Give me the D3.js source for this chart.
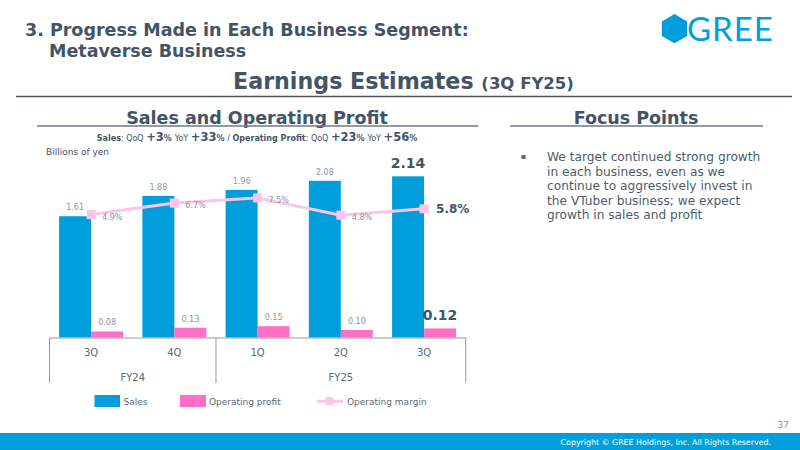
<!DOCTYPE html>
<html><head><meta charset="utf-8">
<script src="https://cdn.jsdelivr.net/npm/d3@7"></script>
<style>
html,body{margin:0;padding:0;background:#fff;}
svg{display:block;font-family:"DejaVu Sans",Verdana,sans-serif;}
</style></head>
<body>
<svg id="c" width="800" height="450"></svg>
<script>
const quarters = ["3Q", "4Q", "1Q", "2Q", "3Q"];
const fiscalYears = ["FY24", "FY25"];
const fiscalSpans = [2, 3];
const sales = [1.61, 1.88, 1.96, 2.08, 2.14];
const profit = [0.08, 0.13, 0.15, 0.10, 0.12];
const margin = [4.9, 6.7, 7.5, 4.8, 5.8];
const legendLabels = ["Sales", "Operating profit", "Operating margin"];
const focusLines = ["We target continued strong growth", "in each business, even as we",
  "continue to aggressively invest in", "the VTuber business; we expect", "growth in sales and profit"];

const C = {blue:"#009fdb", pink:"#ff6ec7", pale:"#ffc4ea", head:"#435466", gray:"#8a96a3", text:"#5a6878"};
const svg = d3.select("#c");

// Header
svg.append("text").attr("x",25).attr("y",36).attr("font-size",17.5).attr("font-weight","bold").attr("fill",C.head)
  .text("3. Progress Made in Each Business Segment:");
svg.append("text").attr("x",49).attr("y",57).attr("font-size",17.5).attr("font-weight","bold").attr("fill",C.head)
  .text("Metaverse Business");
const t2 = svg.append("text").attr("x",233).attr("y",89).attr("font-weight","bold").attr("fill",C.head);
t2.append("tspan").attr("font-size",22.2).text("Earnings Estimates ");
t2.append("tspan").attr("font-size",16.5).text("(3Q FY25)");
svg.append("line").attr("x1",16).attr("x2",792).attr("y1",96.5).attr("y2",96.5).attr("stroke","#4a5561").attr("stroke-width",1.5);

// Logo
const hx=674.5, hy=28.7, hr=14.6;
svg.append("polygon").attr("fill",C.blue)
  .attr("points", d3.range(6).map(i=>{const a=Math.PI/3*i - Math.PI/2; return [hx+hr*Math.cos(a), hy+hr*Math.sin(a)].join(",");}).join(" "));
svg.append("text").attr("x",687).attr("y",41).attr("font-family","Lato, sans-serif").attr("font-size",33).attr("fill",C.blue)
  .attr("letter-spacing",1).text("GREE");

// Section titles
svg.append("text").attr("x",257).attr("y",124).attr("text-anchor","middle").attr("font-size",17.5).attr("font-weight","bold").attr("fill",C.head).text("Sales and Operating Profit");
svg.append("line").attr("x1",37).attr("x2",478).attr("y1",126).attr("y2",126).attr("stroke","#6b7a88").attr("stroke-width",1.3);
svg.append("text").attr("x",636).attr("y",124).attr("text-anchor","middle").attr("font-size",17.5).attr("font-weight","bold").attr("fill",C.head).text("Focus Points");
svg.append("line").attr("x1",510).attr("x2",763).attr("y1",126).attr("y2",126).attr("stroke","#6b7a88").attr("stroke-width",1.3);

// Subtitle
const st = svg.append("text").attr("x",257).attr("y",141).attr("text-anchor","middle").attr("fill",C.head);
[["Sales",8,"bold"],[": QoQ ",8,"normal"],["+3",11.5,"bold"],["% ",8,"bold"],["YoY ",8,"normal"],["+33",11.5,"bold"],["% ",8,"bold"],
 ["/ ",8,"normal"],["Operating Profit",8,"bold"],[": QoQ ",8,"normal"],["+23",11.5,"bold"],["% ",8,"bold"],["YoY ",8,"normal"],["+56",11.5,"bold"],["%",8,"bold"]]
 .forEach(([s,f,w])=>st.append("tspan").attr("font-size",f).attr("font-weight",w).text(s));
svg.append("text").attr("x",46).attr("y",155).attr("font-size",9).attr("fill",C.head).text("Billions of yen");

// Chart
const x0=49.5, x1=465.7, base=337.5;
const x = d3.scaleBand().domain(d3.range(quarters.length)).range([x0,x1]).padding(0);
const bw = x.bandwidth();
const sub = d3.scaleBand().domain(["s","p"]).range([bw/2-32, bw/2+32]).padding(0);
const y = d3.scaleLinear().domain([0,2.2]).range([base, base-165.7]);
const yM = d3.scaleLinear().domain([-14.36,10]).range([base, base-155.5]);

const g = svg.append("g");
g.selectAll("rect.s").data(sales).join("rect").attr("class","s")
  .attr("x",(d,i)=>x(i)+sub("s")).attr("width",sub.bandwidth()).attr("y",d=>y(d)).attr("height",d=>base-y(d)).attr("fill",C.blue);
g.selectAll("rect.p").data(profit).join("rect").attr("class","p")
  .attr("x",(d,i)=>x(i)+sub("p")).attr("width",sub.bandwidth()).attr("y",d=>y(d)).attr("height",d=>base-y(d)).attr("fill",C.pink);

const last = sales.length-1;
g.selectAll("text.sl").data(sales).join("text").attr("class","sl")
  .attr("x",(d,i)=>x(i)+sub("s")+sub.bandwidth()/2).attr("y",(d,i)=>y(d)-(i===last?8:6))
  .attr("text-anchor","middle").attr("font-size",(d,i)=>i===last?14:8).attr("font-weight",(d,i)=>i===last?"bold":"normal")
  .attr("fill",(d,i)=>i===last?C.head:C.gray).text(d=>d.toFixed(2));
g.selectAll("text.pl").data(profit).join("text").attr("class","pl")
  .attr("x",(d,i)=>x(i)+sub("p")+sub.bandwidth()/2).attr("y",(d,i)=>y(d)-(i===last?8:6))
  .attr("text-anchor","middle").attr("font-size",(d,i)=>i===last?14:8).attr("font-weight",(d,i)=>i===last?"bold":"normal")
  .attr("fill",(d,i)=>i===last?C.head:C.gray).text(d=>d.toFixed(2));

const cx = i => x(i)+bw/2;
g.append("path").datum(margin).attr("fill","none").attr("stroke",C.pale).attr("stroke-width",3)
  .attr("d", d3.line().x((d,i)=>cx(i)).y(d=>yM(d)));
g.selectAll("rect.m").data(margin).join("rect").attr("class","m")
  .attr("x",(d,i)=>cx(i)-4.5).attr("y",d=>yM(d)-4.5).attr("width",9).attr("height",9).attr("fill",C.pale);
g.selectAll("text.ml").data(margin).join("text").attr("class","ml")
  .attr("x",(d,i)=>cx(i)+(i===last?12:11)).attr("y",(d,i)=>yM(d)+(i===last?4.5:5))
  .attr("font-size",(d,i)=>i===last?12:8).attr("font-weight",(d,i)=>i===last?"bold":"normal")
  .attr("fill",(d,i)=>i===last?C.head:C.gray).text(d=>d.toFixed(1)+"%");

// Category axis
const ax = svg.append("g").attr("transform",`translate(0,${base})`)
  .call(d3.axisBottom(x).tickSize(0).tickPadding(11).tickFormat(i=>quarters[i]));
ax.select(".domain").remove();
ax.selectAll("text").attr("font-size",10).attr("fill",C.text).attr("font-family","DejaVu Sans, Verdana, sans-serif");
svg.append("line").attr("x1",x0).attr("x2",x1).attr("y1",base+0.5).attr("y2",base+0.5).attr("stroke","#9a9a9a");
let cum=0;
const bounds=[0];
fiscalSpans.forEach(s=>{cum+=s;bounds.push(cum);});
bounds.forEach(b=>{
  const bx = b===quarters.length ? x1 : x(b);
  svg.append("line").attr("x1",bx).attr("x2",bx).attr("y1",base).attr("y2",383).attr("stroke","#9a9a9a");
});
fiscalYears.forEach((fy,k)=>{
  const a = x(bounds[k]), b = bounds[k+1]===quarters.length ? x1 : x(bounds[k+1]);
  svg.append("text").attr("x",(a+b)/2).attr("y",381).attr("text-anchor","middle").attr("font-size",10).attr("fill",C.text).text(fy);
});

// Legend
const lg = svg.append("g").attr("font-size",9).attr("fill",C.text);
lg.append("rect").attr("x",94.5).attr("y",395).attr("width",25.5).attr("height",12).attr("fill",C.blue);
lg.append("text").attr("x",123.5).attr("y",404.5).text(legendLabels[0]);
lg.append("rect").attr("x",180).attr("y",395).attr("width",26).attr("height",12).attr("fill",C.pink);
lg.append("text").attr("x",209).attr("y",404.5).text(legendLabels[1]);
lg.append("line").attr("x1",317).attr("x2",343).attr("y1",401.3).attr("y2",401.3).attr("stroke",C.pale).attr("stroke-width",3);
lg.append("rect").attr("x",325.5).attr("y",397).attr("width",8).attr("height",8).attr("fill",C.pale);
lg.append("text").attr("x",347).attr("y",404.5).text(legendLabels[2]);

// Focus points
svg.append("rect").attr("x",521.5).attr("y",155).attr("width",4).attr("height",4).attr("fill","#5a6878");
svg.append("g").selectAll("text").data(focusLines).join("text")
  .attr("x",547).attr("y",(d,i)=>161+i*14.6).attr("font-size",12.2).attr("fill","#4d5c6c").text(d=>d);

// Footer
svg.append("text").attr("x",789).attr("y",428).attr("text-anchor","end").attr("font-size",9).attr("fill","#8a96a3").text("37");
svg.append("rect").attr("x",0).attr("y",433).attr("width",800).attr("height",17).attr("fill",C.blue);
svg.append("text").attr("x",771).attr("y",445).attr("text-anchor","end").attr("font-size",7.9).attr("fill","#fff")
  .text("Copyright © GREE Holdings, Inc. All Rights Reserved.");
</script>
</body></html>
